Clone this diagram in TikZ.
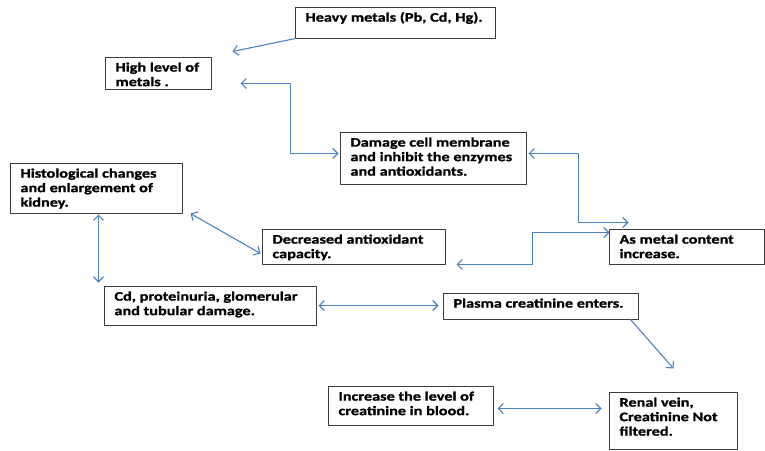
\documentclass[tikz,border=0pt]{standalone}
\usepackage{fontspec}
\setmainfont{Carlito}[FakeStretch=1.25, BoldFeatures={FakeBold=1.2}]
\usetikzlibrary{arrows.meta}
\definecolor{arrowblue}{RGB}{79,129,189}
\definecolor{boxgray}{RGB}{60,60,60}
\newcommand{\boxtext}[3]{\parbox[c][#2][t]{#1}{\raggedright\strut #3}}
\begin{document}
\begin{tikzpicture}[x=1pt, y=-1pt, line join=round, line cap=round,
	>={Straight Barb[length=5pt,width=10pt]},
	box/.style={draw=boxgray, line width=1.1pt, anchor=north west, outer sep=0pt,
		inner xsep=10pt, inner ysep=4pt, font=\fontsize{13}{14.5}\selectfont\bfseries},
	link/.style={draw=arrowblue, line width=1.1pt}]
	\useasboundingbox (-0.5,-0.5) rectangle (764.5,449.5);
	% boxes
	\node[box] (heavy) at (295,7) {\boxtext{180pt}{23pt}{Heavy metals (Pb, Cd, Hg).}};
	\node[box] (high) at (105,57) {\boxtext{86pt}{24pt}{High level of\\ metals .}};
	\node[box] (damage) at (340,132) {\boxtext{166pt}{44pt}{Damage cell membrane\\ and inhibit the enzymes\\ and antioxidants.}};
	\node[box] (histo) at (10,163) {\boxtext{152pt}{42pt}{Histological changes\\ and enlargement of\\ kidney.}};
	\node[box] (decreased) at (262,229) {\boxtext{163pt}{27pt}{Decreased antioxidant\\ capacity.}};
	\node[box] (asmetal) at (609,229) {\boxtext{135pt}{27pt}{As metal content\\ increase.}};
	\node[box] (cd) at (104,286) {\boxtext{192pt}{31pt}{Cd, proteinuria, glomerular\\ and tubular damage.}};
	\node[box] (plasma) at (443,293) {\boxtext{175pt}{18pt}{Plasma creatinine enters.}};
	\node[box] (increase) at (328,386) {\boxtext{145pt}{31pt}{Increase the level of\\ creatinine in blood.}};
	\node[box] (renal) at (609,392) {\boxtext{108pt}{49pt}{Renal vein,\\ Creatinine Not\\ filtered.}};
	% arrows
	\draw[link,->] (heavy.south west) -- ([xshift=21pt,yshift=6pt]high.north east);
	\draw[link,<->] ([xshift=29pt,yshift=-10pt]high.east) -- ++(50,0)
		|- ([xshift=-2pt,yshift=5pt]damage.west);
	\draw[link,<->] ([xshift=2pt,yshift=5pt]damage.east) -- ++(50,0)
		|- ([xshift=19pt,yshift=7pt]asmetal.north west);
	\draw[link,<->] ([yshift=-3pt]asmetal.north west) -- ++(-77,0)
		|- ([xshift=11pt]decreased.south east);
	\draw[link,<->] ([xshift=8pt]histo.south east) -- ([xshift=-2pt,yshift=-6.5pt]decreased.west);
	\draw[link,<->] ([xshift=2pt,yshift=-1pt]histo.south) -- ([xshift=-6pt,yshift=4pt]cd.north west);
	\draw[link,<->] ([xshift=2pt,yshift=0.5pt]cd.east) -- ([xshift=-5pt,yshift=1pt]plasma.west);
	\draw[link,->] ([xshift=-8pt]plasma.south east) -- ([yshift=24pt]renal.north);
	\draw[link,<->] ([xshift=4pt,yshift=-2.5pt]increase.east) -- ([xshift=-8pt,yshift=12.5pt]renal.west);
\end{tikzpicture}
\end{document}
